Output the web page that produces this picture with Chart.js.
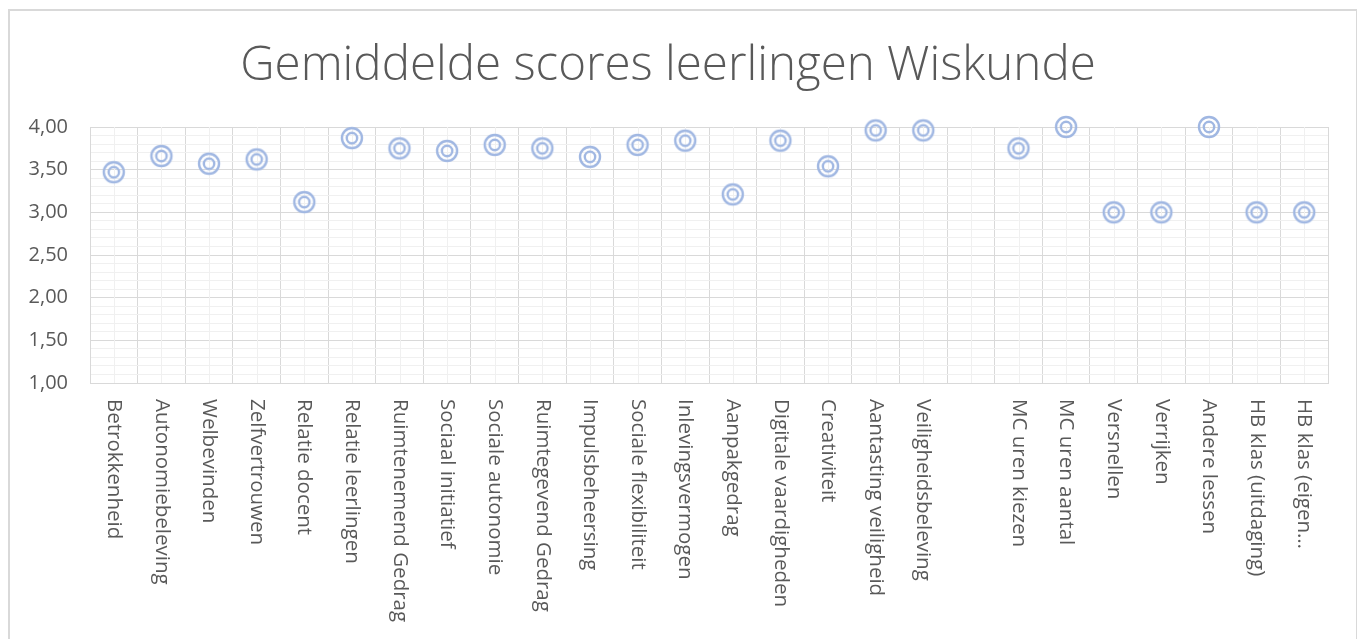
<!DOCTYPE html>
<html>
<head>
<meta charset="utf-8">
<script src="https://cdn.jsdelivr.net/npm/chart.js@4/dist/chart.umd.min.js"></script>
<style>
    body { margin: 0; background: #fff; }
    .chart-wrap { position: relative; width: 1358px; height: 639px; }
    .chart-frame {
        position: absolute; left: 8px; top: 9px; right: 1px; bottom: -10px;
        border: 2px solid #d9d9d9; border-right-width: 1px; pointer-events: none;
    }
</style>
</head>
<body>
<div class="chart-wrap">
    <canvas id="chart"></canvas>
    <div class="chart-frame"></div>
</div>
<script>
// data
const categories = [
    'Betrokkenheid', 'Autonomiebeleving', 'Welbevinden', 'Zelfvertrouwen', 'Relatie docent',
    'Relatie leerlingen', 'Ruimtenemend Gedrag', 'Sociaal initiatief', 'Sociale autonomie',
    'Ruimtegevend Gedrag', 'Impulsbeheersing', 'Sociale flexibiliteit', 'Inlevingsvermogen',
    'Aanpakgedrag', 'Digitale vaardigheden', 'Creativiteit', 'Aantasting veiligheid',
    'Veiligheidsbeleving', '', 'MC uren kiezen', 'MC uren aantal', 'Versnellen', 'Verrijken',
    'Andere lessen', 'HB klas (uitdaging)', 'HB klas (eigen…'
];
const scores = [
    3.47, 3.66, 3.57, 3.62, 3.12,
    3.87, 3.75, 3.72, 3.79,
    3.75, 3.65, 3.79, 3.84,
    3.21, 3.84, 3.54, 3.96,
    3.96, null, 3.75, 4.00, 3.00, 3.00,
    4.00, 3.00, 3.00
];
const yMin = 1;
const yMax = 4;

const textColor = '#595959';
const majorGrid = '#d9d9d9';
const minorGrid = '#f0f0f0';
const markerColor = 'rgb(160, 183, 226)';

// double circle marker
function makeMarker() {
    const c = document.createElement('canvas');
    c.width = 26;
    c.height = 26;
    const ctx = c.getContext('2d');
    ctx.strokeStyle = markerColor;
    ctx.lineWidth = 2.4;
    ctx.beginPath();
    ctx.arc(13, 13, 10, 0, Math.PI * 2);
    ctx.stroke();
    ctx.beginPath();
    ctx.arc(13, 13, 5.2, 0, Math.PI * 2);
    ctx.stroke();
    return c;
}

// minor vertical lines + rotated category labels
const categoryPlugin = {
    id: 'categoryLines',
    beforeDatasetsDraw(chart) {
        const { ctx, chartArea, scales } = chart;
        ctx.save();
        ctx.strokeStyle = minorGrid;
        ctx.lineWidth = 1;
        categories.forEach((c, i) => {
            const x = Math.round(scales.x.getPixelForValue(i)) + 0.5;
            ctx.beginPath();
            ctx.moveTo(x, chartArea.top);
            ctx.lineTo(x, chartArea.bottom);
            ctx.stroke();
        });
        ctx.restore();
    },
    afterDraw(chart) {
        const { ctx, chartArea, scales } = chart;
        ctx.save();
        ctx.fillStyle = textColor;
        ctx.font = '20.5px "Open Sans"';
        ctx.textAlign = 'left';
        ctx.textBaseline = 'middle';
        categories.forEach((c, i) => {
            const x = scales.x.getPixelForValue(i);
            ctx.save();
            ctx.translate(x, chartArea.bottom + 16);
            ctx.rotate(Math.PI / 2);
            ctx.fillText(c, 0, 0);
            ctx.restore();
        });
        ctx.restore();
    }
};

new Chart(document.getElementById('chart'), {
    type: 'line',
    data: {
        labels: categories,
        datasets: [{
            data: scores,
            showLine: false,
            clip: false,
            pointStyle: makeMarker(),
            pointRadius: 11,
            pointHoverRadius: 11
        }]
    },
    options: {
        responsive: true,
        maintainAspectRatio: false,
        animation: false,
        layout: {
            padding: { left: 8, right: 30, top: 0, bottom: 0 }
        },
        plugins: {
            legend: { display: false },
            tooltip: { enabled: false },
            title: {
                display: true,
                text: 'Gemiddelde scores leerlingen Wiskunde',
                color: textColor,
                font: { family: '"Open Sans"', size: 47.5, weight: '300' },
                padding: { top: 38, bottom: 32 }
            }
        },
        scales: {
            x: {
                offset: true,
                grid: {
                    offset: true,
                    color: majorGrid,
                    drawTicks: false
                },
                border: { color: majorGrid },
                ticks: { display: false },
                afterFit(scale) {
                    scale.height = 256;
                }
            },
            y: {
                min: yMin,
                max: yMax,
                grid: {
                    drawTicks: false,
                    color: (ctx) => {
                        const v = ctx.tick ? ctx.tick.value : 0;
                        return Math.abs(v * 2 - Math.round(v * 2)) < 1e-6 ? majorGrid : minorGrid;
                    }
                },
                border: { color: majorGrid },
                ticks: {
                    stepSize: 0.1,
                    autoSkip: false,
                    padding: 22,
                    color: textColor,
                    font: { family: '"Open Sans"', size: 20 },
                    callback: (v) => Math.abs(v * 2 - Math.round(v * 2)) < 1e-6 ? v.toFixed(2).replace('.', ',') : ''
                },
                afterFit(scale) {
                    scale.width = 82;
                }
            }
        }
    },
    plugins: [categoryPlugin]
});
</script>
</body>
</html>
